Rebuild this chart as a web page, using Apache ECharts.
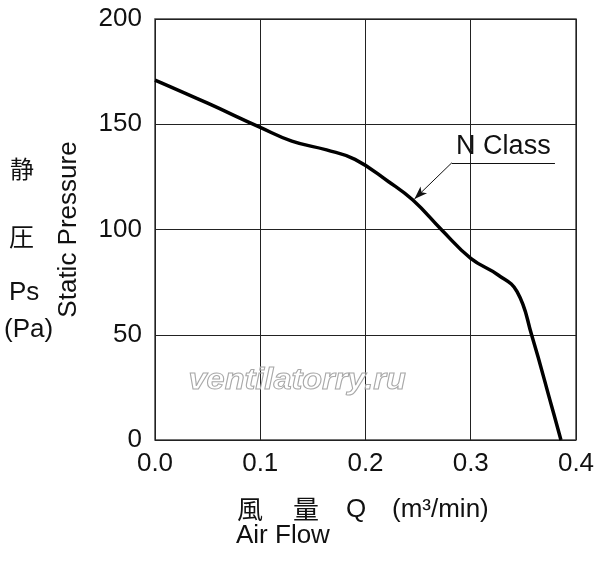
<!DOCTYPE html>
<html>
<head>
<meta charset="utf-8">
<script src="https://cdn.jsdelivr.net/npm/echarts@6/dist/echarts.min.js"></script>
<style>
  html, body { margin: 0; padding: 0; background: #fff; }
  #main { width: 600px; height: 562px; }
</style>
</head>
<body>
<div id="main"></div>
<script>
// data: [air flow m3/min, static pressure Pa]
const flow = [0, 0.05, 0.1, 0.13, 0.163, 0.19, 0.222, 0.245, 0.272, 0.3, 0.326, 0.344, 0.358, 0.377, 0.3857];
const pressure = [171, 160, 148.5, 142, 137.8, 133.3, 122.7, 114, 100, 86.3, 78.4, 70.5, 49.6, 15.8, 0];
const xTicks = [0, 0.1, 0.2, 0.3, 0.4];
const yTicks = [0, 50, 100, 150, 200];
// "N Class" leader: corner of the underline, arrow tip on the curve, underline end
const leaderCorner = [0.282, 131.7];
const leaderTip = [0.2465, 114.5];
const leaderEnd = [0.380, 131.7];

const font = "'Liberation Sans', Arial, sans-serif";
const cjk = "'Noto Sans CJK JP', sans-serif";

const myChart = echarts.init(document.getElementById('main'));

const option = {
  animation: false,
  grid: {
    left: 155, right: 24, top: 19, bottom: 122,
    show: true, borderColor: '#444', borderWidth: 1.5
  },
  xAxis: {
    type: 'value',
    min: xTicks[0], max: xTicks[xTicks.length - 1], interval: 0.1,
    axisLine: { show: false },
    axisTick: { show: false },
    splitLine: { lineStyle: { color: '#222', width: 1 } },
    axisLabel: {
      margin: 11, color: '#111', fontSize: 26, fontFamily: font,
      formatter: v => v.toFixed(1)
    }
  },
  yAxis: {
    type: 'value',
    min: yTicks[0], max: yTicks[yTicks.length - 1], interval: 50,
    axisLine: { show: false },
    axisTick: { show: false },
    splitLine: { lineStyle: { color: '#222', width: 1 } },
    axisLabel: { margin: 13, color: '#111', fontSize: 26, fontFamily: font },
    name: 'Static Pressure',
    nameLocation: 'middle',
    nameRotate: 90,
    nameGap: 73,
    nameTextStyle: { color: '#111', fontSize: 26, fontFamily: font }
  },
  series: [
    {
      type: 'line',
      data: flow.map((q, i) => [q, pressure[i]]),
      smooth: 0.45,
      showSymbol: false,
      lineStyle: { color: '#000', width: 3.5 },
      markLine: {
        silent: true,
        animation: false,
        lineStyle: { color: '#111', width: 1, type: 'solid' },
        data: [
          [
            { coord: leaderCorner, symbol: 'none' },
            { coord: leaderTip, symbol: 'arrow', symbolSize: [7, 13] }
          ],
          [
            {
              coord: leaderCorner, symbol: 'none',
              label: {
                show: true, formatter: 'N Class', position: 'insideMiddleTop',
                distance: 3, color: '#111', fontSize: 27, fontFamily: font
              }
            },
            { coord: leaderEnd, symbol: 'none' }
          ]
        ]
      }
    }
  ],
  graphic: [
    { type: 'text', left: 10, top: 157, style: { text: '静', fontSize: 24, fontFamily: cjk, fill: '#111' } },
    { type: 'text', left: 9, top: 224, style: { text: '圧', fontSize: 25, fontFamily: cjk, fill: '#111' } },
    { type: 'text', left: 9, top: 280, style: { text: 'Ps', fontSize: 26, fontFamily: font, fill: '#111' } },
    { type: 'text', left: 4, top: 317, style: { text: '(Pa)', fontSize: 26, fontFamily: font, fill: '#111' } },
    { type: 'text', left: 237, top: 496, style: { text: '風', fontSize: 26, fontFamily: cjk, fill: '#111' } },
    { type: 'text', left: 293, top: 496, style: { text: '量', fontSize: 26, fontFamily: cjk, fill: '#111' } },
    { type: 'text', left: 346, top: 497, style: { text: 'Q', fontSize: 26, fontFamily: font, fill: '#111' } },
    { type: 'text', left: 392, top: 497, style: { text: '(m³/min)', fontSize: 26, fontFamily: font, fill: '#111' } },
    { type: 'text', left: 236, top: 523, style: { text: 'Air Flow', fontSize: 26, fontFamily: font, fill: '#111' } },
    {
      type: 'text', left: 188, top: 366, z: 10, scaleX: 1.12,
      style: {
        text: 'ventilatorry.ru', fontSize: 29, fontStyle: 'italic', fontWeight: 'bold', fontFamily: font,
        fill: 'rgba(255,255,255,0)', stroke: '#a8a8a8', lineWidth: 1
      }
    }
  ]
};

myChart.setOption(option);
</script>
</body>
</html>
